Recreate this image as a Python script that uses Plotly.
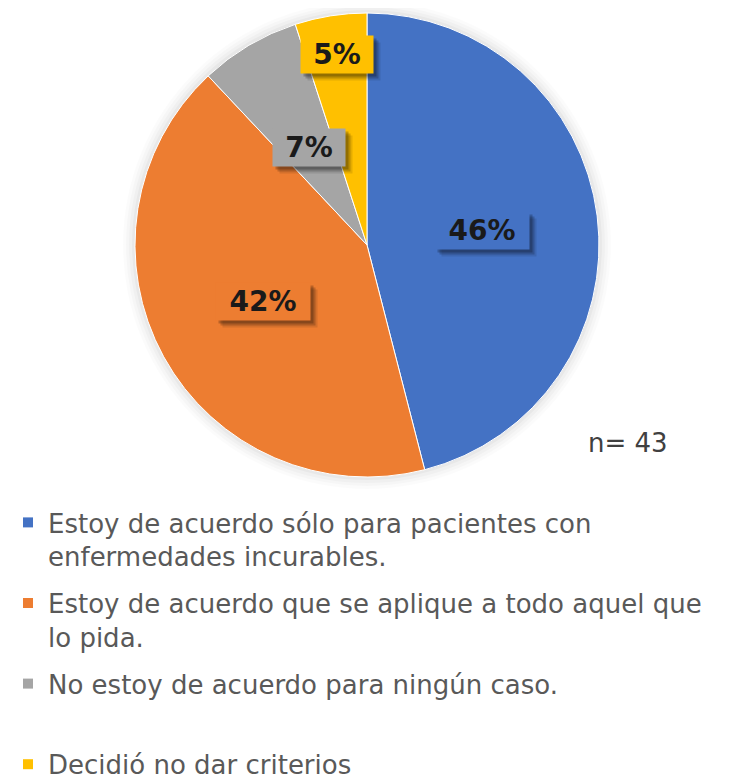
import math
import plotly.graph_objects as go

# ---- data ----
categories = [
    "Estoy de acuerdo sólo para pacientes con<br>enfermedades incurables.",
    "Estoy de acuerdo que se aplique a todo aquel que<br>lo pida.",
    "No estoy de acuerdo para ningún caso.<br> ",
    "Decidió no dar criterios",
]
values = [46, 42, 7, 5]
value_labels = ["46%", "42%", "7%", "5%"]
sample_note = "n= 43"

# ---- style ----
W, H = 738, 779
colors = ["#4472C4", "#ED7D31", "#A5A5A5", "#FFC000"]
label_radius_frac = [0.50, 0.51, 0.49, 0.83]
dom_x = [0.17209, 0.80081]
dom_y = [0.39795, 0.99358]

fig = go.Figure()
fig.add_trace(go.Pie(
    labels=categories,
    values=values,
    sort=False,
    direction="clockwise",
    rotation=0,
    marker=dict(colors=colors, line=dict(color="white", width=1)),
    textinfo="none",
    hoverinfo="label+percent",
    domain=dict(x=dom_x, y=dom_y),
    showlegend=False,
))

# legend entries (one group per category, same colours as the slices)
for i, (name, col) in enumerate(zip(categories, colors)):
    fig.add_trace(go.Scatter(
        x=[None], y=[None], mode="markers", name=name,
        marker=dict(symbol="square", size=10, color=col),
        legendgroup=f"g{i}", showlegend=True, hoverinfo="skip",
    ))

# geometry of the pie in pixels (derived from the domain)
cx = (dom_x[0] + dom_x[1]) / 2 * W
cy = (1 - (dom_y[0] + dom_y[1]) / 2) * H
R = min((dom_x[1] - dom_x[0]) * W, (dom_y[1] - dom_y[0]) * H) / 2

# soft glow around the pie
shapes = []
for k, a in [(12, 0.015), (9, 0.02), (6, 0.025), (3, 0.03)]:
    shapes.append(dict(
        type="circle", xref="paper", yref="paper", layer="below",
        x0=(cx - R - k) / W, x1=(cx + R + k) / W,
        y0=1 - (cy + R + k) / H, y1=1 - (cy - R - k) / H,
        fillcolor=f"rgba(0,0,0,{a})", line=dict(width=0),
    ))

total = sum(values)
cum = 0
annotations = []
for v, lab, col, f in zip(values, value_labels, colors, label_radius_frac):
    mid = (cum + v / 2) / total
    cum += v
    th = 2 * math.pi * mid
    px = cx + f * R * math.sin(th)
    py = cy - f * R * math.cos(th)
    xp, yp = px / W, 1 - py / H
    bw = 22 * len(lab) + 26
    for sh, op in [(7, 0.10), (5, 0.18), (3, 0.22)]:
        annotations.append(dict(
            x=xp, y=yp, xref="paper", yref="paper", showarrow=False,
            xanchor="center", yanchor="middle",
            text=lab, font=dict(family="DejaVu Sans", size=28, color="rgba(0,0,0,0)"),
            bgcolor=f"rgba(0,0,0,{op})", width=bw, height=35,
            xshift=sh, yshift=-sh,
        ))
    annotations.append(dict(
        x=xp, y=yp, xref="paper", yref="paper", showarrow=False,
        xanchor="center", yanchor="middle",
        text=f"<b>{lab}</b>", font=dict(family="DejaVu Sans", size=28, color="#1a1a1a"),
        bgcolor=col, width=bw, height=35,
    ))

annotations.append(dict(
    x=620 / W, y=1 - 435 / H, xref="paper", yref="paper", showarrow=False,
    text=sample_note, font=dict(family="DejaVu Sans", size=26, color="#404040"),
    xanchor="center", yanchor="middle",
))

fig.update_xaxes(visible=False, fixedrange=True)
fig.update_yaxes(visible=False, fixedrange=True)

fig.update_layout(
    width=W, height=H,
    margin=dict(l=0, r=0, t=0, b=0, autoexpand=False),
    paper_bgcolor="white",
    plot_bgcolor="rgba(0,0,0,0)",
    annotations=annotations,
    shapes=shapes,
    legend=dict(
        x=0.0, y=1 - 491 / H, xanchor="left", yanchor="top",
        orientation="v", valign="top", traceorder="grouped",
        tracegroupgap=10,
        font=dict(family="DejaVu Sans", size=26, color="#595959"),
        bgcolor="rgba(0,0,0,0)",
    ),
)

fig.write_html("out.html")
